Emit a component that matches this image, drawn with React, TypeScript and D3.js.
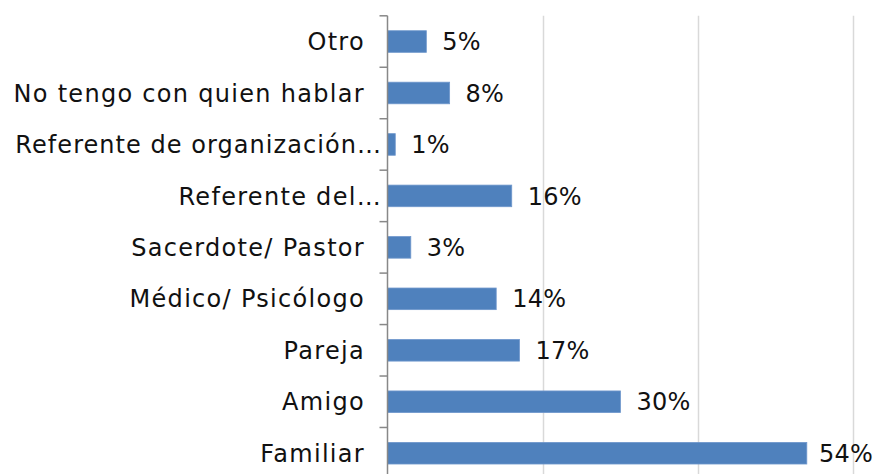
import React from "react";
import * as d3 from "d3";

const categories = [
  "Otro",
  "No tengo con quien hablar",
  "Referente de organización…",
  "Referente del…",
  "Sacerdote/ Pastor",
  "Médico/ Psicólogo",
  "Pareja",
  "Amigo",
  "Familiar",
];
const values = [5, 8, 1, 16, 3, 14, 17, 30, 54];
const gridTicks = [0, 20, 40, 60];

const W = 875;
const H = 474;
const axisX = 387.5;
const FONT = "'DejaVu Sans', sans-serif";
const FS = 24;
const LS = 1.3;

export default function App() {
  const x = d3.scaleLinear().domain([0, 60]).range([axisX, axisX + 465.9]);
  const y = d3
    .scaleBand<string>()
    .domain(categories)
    .range([15.8, 15.8 + 51.46 * 9])
    .paddingInner(0.58)
    .paddingOuter(0.29);
  const step = y.step();
  const top = 15.8;
  return (
    <svg
      width={W}
      height={H}
      style={{ position: "absolute", left: 0, top: 0, background: "#fff" }}
    >
      {gridTicks.slice(1).map((t) => (
        <line
          key={t}
          x1={Math.round(x(t)) + 0.5}
          x2={Math.round(x(t)) + 0.5}
          y1={top}
          y2={H}
          stroke="#d9d9d9"
          strokeWidth={1.5}
        />
      ))}
      {categories.map((c, i) => (
        <g key={c}>
          <rect
            x={x(0)}
            y={y(c)!}
            width={x(values[i]) - x(0)}
            height={y.bandwidth()}
            fill="#4F81BD"
            stroke="#6f97cc"
            strokeWidth={0.8}
          />
          <text
            x={Math.min(x(values[i]) + 16, W - 56)}
            y={y(c)! + y.bandwidth() / 2}
            dy="0.36em"
            fontFamily={FONT}
            fontSize={FS}
            letterSpacing={0.2}
            fill="#111"
          >
            {values[i]}%
          </text>
          <text
            x={c.endsWith("…") ? axisX - 5.5 : axisX - 22.5}
            y={y(c)! + y.bandwidth() / 2}
            dy="0.36em"
            textAnchor="end"
            fontFamily={FONT}
            fontSize={FS}
            letterSpacing={c.length > 25 ? 1.05 : LS}
            fill="#111"
          >
            {c}
          </text>
        </g>
      ))}
      <line x1={axisX} x2={axisX} y1={top} y2={H} stroke="#888" strokeWidth={1.5} />
      {d3.range(0, 10).map((i) => (
        <line
          key={i}
          x1={axisX - 8}
          x2={axisX}
          y1={top + i * step}
          y2={top + i * step}
          stroke="#888"
          strokeWidth={1.5}
        />
      ))}
    </svg>
  );
}
